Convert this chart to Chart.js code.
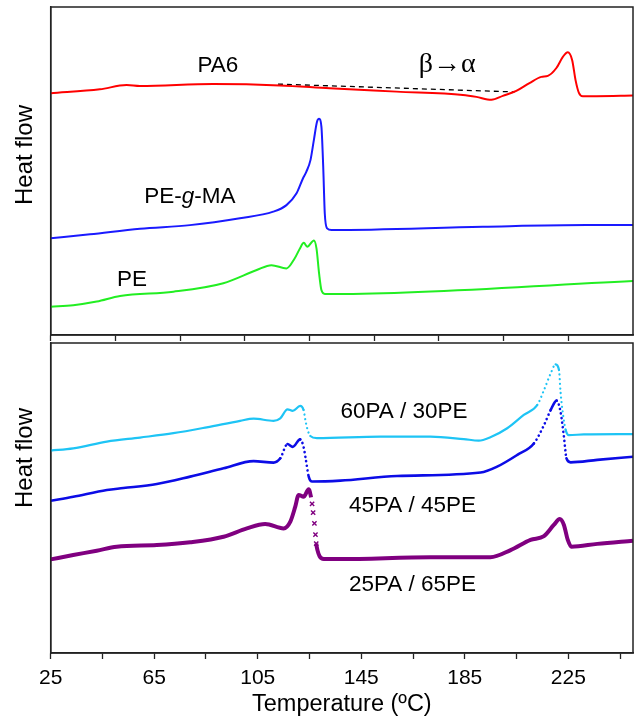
<!DOCTYPE html>
<html>
<head>
<meta charset="utf-8">
<script src="https://cdn.jsdelivr.net/npm/chart.js@4.4.1/dist/chart.umd.min.js"></script>
<style>
  html, body { margin: 0; padding: 0; background: #fff; }
  #wrap { width: 635px; height: 720px; }
  canvas { display: block; }
</style>
</head>
<body>
<div id="wrap">
  <canvas id="top" width="635" height="342"></canvas>
  <canvas id="bottom" width="635" height="378"></canvas>
</div>
<script>
// temperature (°C) / heat flow (a.u.) for the neat polymers
const pa6T = [25, 44, 54.3, 59.5, 87.7, 113.5, 132.8, 158.6, 184.3, 189.5, 195.3, 199.7, 204.9, 210, 214.6, 217.1, 220.4, 222.9, 224.8, 226.5, 227.8, 229.1, 230.6, 235.8, 250];
const pa6HF = [7.37, 7.49, 7.62, 7.59, 7.65, 7.61, 7.52, 7.42, 7.32, 7.26, 7.17, 7.29, 7.44, 7.68, 7.87, 7.90, 8.14, 8.48, 8.62, 8.38, 7.77, 7.38, 7.28, 7.28, 7.30];

const pegmaT = [25, 40.2, 59.5, 78.8, 98.1, 111, 116.1, 120, 122.5, 123.8, 125.4, 126.7, 127.9, 128.7, 129.6, 130.3, 130.9, 131.8, 133.5, 192, 232, 250];
const pegmaHF = [2.95, 3.07, 3.24, 3.35, 3.56, 3.76, 3.96, 4.32, 4.78, 4.98, 5.34, 5.95, 6.50, 6.59, 6.35, 5.13, 3.71, 3.25, 3.20, 3.30, 3.35, 3.35];

const peT = [25, 33.7, 42.8, 51.8, 72.4, 91.7, 104.6, 110.3, 116.1, 119.3, 121.3, 122.8, 124.1, 126.7, 127.7, 128.7, 129.6, 130.9, 135, 250];
const peHF = [0.86, 0.91, 1.02, 1.19, 1.32, 1.58, 1.98, 2.13, 2.03, 2.34, 2.64, 2.81, 2.69, 2.88, 2.64, 1.88, 1.37, 1.25, 1.25, 1.65];

// baseline drawn under the beta -> alpha transition
const baseT = [112.8, 204.3];
const baseHF = [7.65, 7.41];

// blends
const b60T = [25, 33.7, 46.7, 59.5, 72.4, 85.3, 98.2, 103.4, 111.1, 113.7, 116.5, 118.5, 121.4, 122.7, 123.4, 124, 125.3, 127.9, 152.4, 171.7, 184.6, 190.4, 194.9, 201.4, 207.8, 213, 215.6, 218.2, 220.1, 221.4, 222, 222.9, 224, 225.2, 231, 250];
const b60HF = [6.53, 6.60, 6.82, 6.95, 7.09, 7.28, 7.49, 7.56, 7.49, 7.57, 7.86, 7.81, 7.97, 7.84, 7.52, 7.28, 7.00, 6.93, 6.98, 6.98, 6.90, 6.85, 6.96, 7.25, 7.68, 8.00, 8.48, 9.02, 9.31, 9.13, 8.43, 7.73, 7.19, 7.03, 7.05, 7.06];

const b45T = [25, 33.7, 46.7, 53.1, 66, 78.9, 91.8, 103.4, 111.1, 113.7, 116.5, 118.5, 121.4, 122.7, 123.6, 124.7, 126, 136.9, 158.8, 191.1, 197.5, 205.3, 211.7, 215.6, 218.2, 220.5, 222, 223.3, 224.3, 225.9, 236.2, 250];
const b45HF = [4.91, 5.04, 5.26, 5.32, 5.45, 5.69, 5.96, 6.19, 6.14, 6.28, 6.74, 6.65, 6.89, 6.65, 6.23, 5.69, 5.53, 5.56, 5.71, 5.82, 6.01, 6.39, 6.76, 7.35, 7.84, 8.14, 7.78, 6.98, 6.28, 6.15, 6.23, 6.33];

const b25T = [25, 33.7, 42.8, 50.5, 66, 78.9, 91.8, 100.8, 107.9, 115, 117.6, 119.5, 120.8, 122.7, 124.7, 125.6, 126, 126.4, 126.9, 127.3, 127.6, 128.1, 128.9, 130.5, 136.9, 171.7, 194.9, 202.7, 210.4, 215.6, 219.4, 221.7, 223.3, 224.8, 226.2, 236.2, 250];
const b25HF = [3.02, 3.16, 3.30, 3.43, 3.48, 3.57, 3.75, 4.02, 4.16, 4.02, 4.24, 4.72, 5.10, 5.04, 5.28, 5.02, 4.81, 4.53, 4.18, 3.82, 3.53, 3.31, 3.12, 3.03, 3.03, 3.09, 3.09, 3.32, 3.65, 3.77, 4.13, 4.32, 4.13, 3.65, 3.43, 3.52, 3.62];

const topTicks = [25, 50, 75, 100, 125, 150, 175, 200, 225];
const bottomTicks = [25, 45, 65, 85, 105, 125, 145, 165, 185, 205, 225, 245];
const bottomTickLabels = [25, 65, 105, 145, 185, 225];

const topLabels = [
  {text: 'PA6', x: 89.6, y: 8.2},
  {text: 'β→α', x: 178.2, y: 8.23, serif: true},
  {text: 'PE-g-MA', x: 78.8, y: 4.21, italicG: true},
  {text: 'PE', x: 56.4, y: 1.68}
];
const bottomLabels = [
  {text: '60PA / 30PE', x: 161.5, y: 7.77},
  {text: '45PA / 45PE', x: 164.8, y: 4.74},
  {text: '25PA / 65PE', x: 164.8, y: 2.19}
];

const SANS = '"Liberation Sans", Arial, sans-serif';
const SERIF = '"Liberation Serif", "Times New Roman", serif';
const LABEL_SIZE = 22.5;

function pts(xs, ys) {
  return xs.map((x, i) => ({x: x, y: ys[i]}));
}

// pixel slope between two points of a segment
function steep(p0, p1, limit) {
  const dx = Math.abs(p1.x - p0.x) || 0.01;
  return Math.abs(p1.y - p0.y) / dx > limit;
}

function line(label, xs, ys, color, width, extra) {
  return Object.assign({
    label: label,
    data: pts(xs, ys),
    borderColor: color,
    backgroundColor: color,
    borderWidth: width,
    pointRadius: 0,
    cubicInterpolationMode: 'monotone',
    fill: false
  }, extra || {});
}

// the blend scans are plotted as markers: steep stretches break into dots
function dotted(label, xs, ys, color, width) {
  return line(label, xs, ys, color, width, {
    borderCapStyle: 'round',
    segment: {
      borderDash: ctx => steep(ctx.p0, ctx.p1, 1.8) ? [0.1, 4.5] : undefined
    }
  });
}

// thick trace with "x" markers showing on the melting drop
function crossed(label, xs, ys, color, width) {
  return line(label, xs, ys, color, width, {
    pointStyle: 'crossRot',
    pointBorderWidth: 1.4,
    pointRadius: ctx => {
      const el = ctx.chart.getDatasetMeta(ctx.datasetIndex).data;
      const i = ctx.dataIndex;
      if (!el || !el[i]) return 0;
      const prev = el[i - 1], next = el[i + 1];
      const s = (prev && steep(prev, el[i], 6)) || (next && steep(el[i], next, 6));
      return s ? 3 : 0;
    },
    segment: {
      borderColor: ctx => steep(ctx.p0, ctx.p1, 6) ? 'rgba(0,0,0,0)' : color
    }
  });
}

// frame, y-axis title and curve labels
function panelDecor(yTitle, titleY, labels) {
  return {
    id: 'panelDecor',
    afterDraw(chart) {
      const ctx = chart.ctx;
      const a = chart.chartArea;
      const xs = chart.scales.x, ys = chart.scales.y;
      ctx.save();
      ctx.strokeStyle = '#222';
      ctx.lineWidth = 1.5;
      ctx.strokeRect(a.left, a.top, a.right - a.left, a.bottom - a.top);

      ctx.fillStyle = '#000';
      ctx.font = '24px ' + SANS;
      ctx.textAlign = 'center';
      ctx.textBaseline = 'middle';
      ctx.save();
      ctx.translate(25, titleY);
      ctx.rotate(-Math.PI / 2);
      ctx.fillText(yTitle, 0, 0);
      ctx.restore();

      labels.forEach(l => {
        const px = xs.getPixelForValue(l.x);
        const py = ys.getPixelForValue(l.y);
        if (l.serif) {
          ctx.font = '28px ' + SERIF;
          ctx.fillText(l.text, px, py);
        } else if (l.italicG) {
          // "PE-" + italic "g" + "-MA"
          const parts = [['PE-', ''], ['g', 'italic '], ['-MA', '']];
          let total = 0;
          parts.forEach(p => { ctx.font = p[1] + LABEL_SIZE + 'px ' + SANS; total += ctx.measureText(p[0]).width; });
          let cx = px - total / 2;
          ctx.textAlign = 'left';
          parts.forEach(p => {
            ctx.font = p[1] + LABEL_SIZE + 'px ' + SANS;
            ctx.fillText(p[0], cx, py);
            cx += ctx.measureText(p[0]).width;
          });
          ctx.textAlign = 'center';
        } else {
          ctx.font = LABEL_SIZE + 'px ' + SANS;
          ctx.fillText(l.text, px, py);
        }
      });
      ctx.restore();
    }
  };
}

function xAxis(tickValues, showLabel, height, extra) {
  return Object.assign({
    type: 'linear',
    min: 25,
    max: 250,
    afterBuildTicks(scale) {
      scale.ticks = tickValues.map(v => ({value: v}));
    },
    afterFit(scale) { scale.height = height; },
    grid: {
      drawOnChartArea: false,
      drawTicks: true,
      tickLength: 6,
      tickColor: '#222',
      tickWidth: 1.3
    },
    border: {display: true, color: '#222', width: 1.5},
    ticks: {
      display: showLabel,
      autoSkip: false,
      maxRotation: 0,
      padding: 7,
      color: '#000',
      font: {family: SANS, size: 21},
      callback: v => bottomTickLabels.includes(v) ? String(v) : ''
    }
  }, extra || {});
}

function yAxis() {
  return {
    min: 0,
    max: 10,
    afterFit(scale) { scale.width = 50.7; },
    grid: {display: false},
    border: {display: true, color: '#222', width: 1.5},
    ticks: {display: false}
  };
}

const common = {
  responsive: false,
  animation: false,
  events: [],
  plugins: {legend: {display: false}, tooltip: {enabled: false}}
};

new Chart(document.getElementById('top'), {
  type: 'line',
  data: {
    datasets: [
      line('PA6', pa6T, pa6HF, '#ff0000', 2),
      line('PE-g-MA', pegmaT, pegmaHF, '#1a1aff', 2),
      line('PE', peT, peHF, '#22ee22', 2),
      line('baseline', baseT, baseHF, '#000', 1.3, {borderDash: [5, 4]})
    ]
  },
  options: Object.assign({}, common, {
    layout: {padding: {top: 7, right: 2, left: 0, bottom: 0}},
    scales: {x: xAxis(topTicks, false, 7), y: yAxis()}
  }),
  plugins: [panelDecor('Heat flow', 155, topLabels)]
});

new Chart(document.getElementById('bottom'), {
  type: 'line',
  data: {
    datasets: [
      dotted('60PA/30PE', b60T, b60HF, '#1ec4f5', 2.2),
      dotted('45PA/45PE', b45T, b45HF, '#0c0ce6', 2.6),
      crossed('25PA/65PE', b25T, b25HF, '#800080', 4)
    ]
  },
  options: Object.assign({}, common, {
    layout: {padding: {top: 1, right: 2, left: 0, bottom: 0}},
    scales: {
      x: xAxis(bottomTicks, true, 67, {
        title: {
          display: true,
          text: 'Temperature (ºC)',
          color: '#000',
          font: {family: SANS, size: 23.5},
          padding: {top: 0, bottom: 1}
        }
      }),
      y: yAxis()
    }
  }),
  plugins: [panelDecor('Heat flow', 116, bottomLabels)]
});
</script>
</body>
</html>
